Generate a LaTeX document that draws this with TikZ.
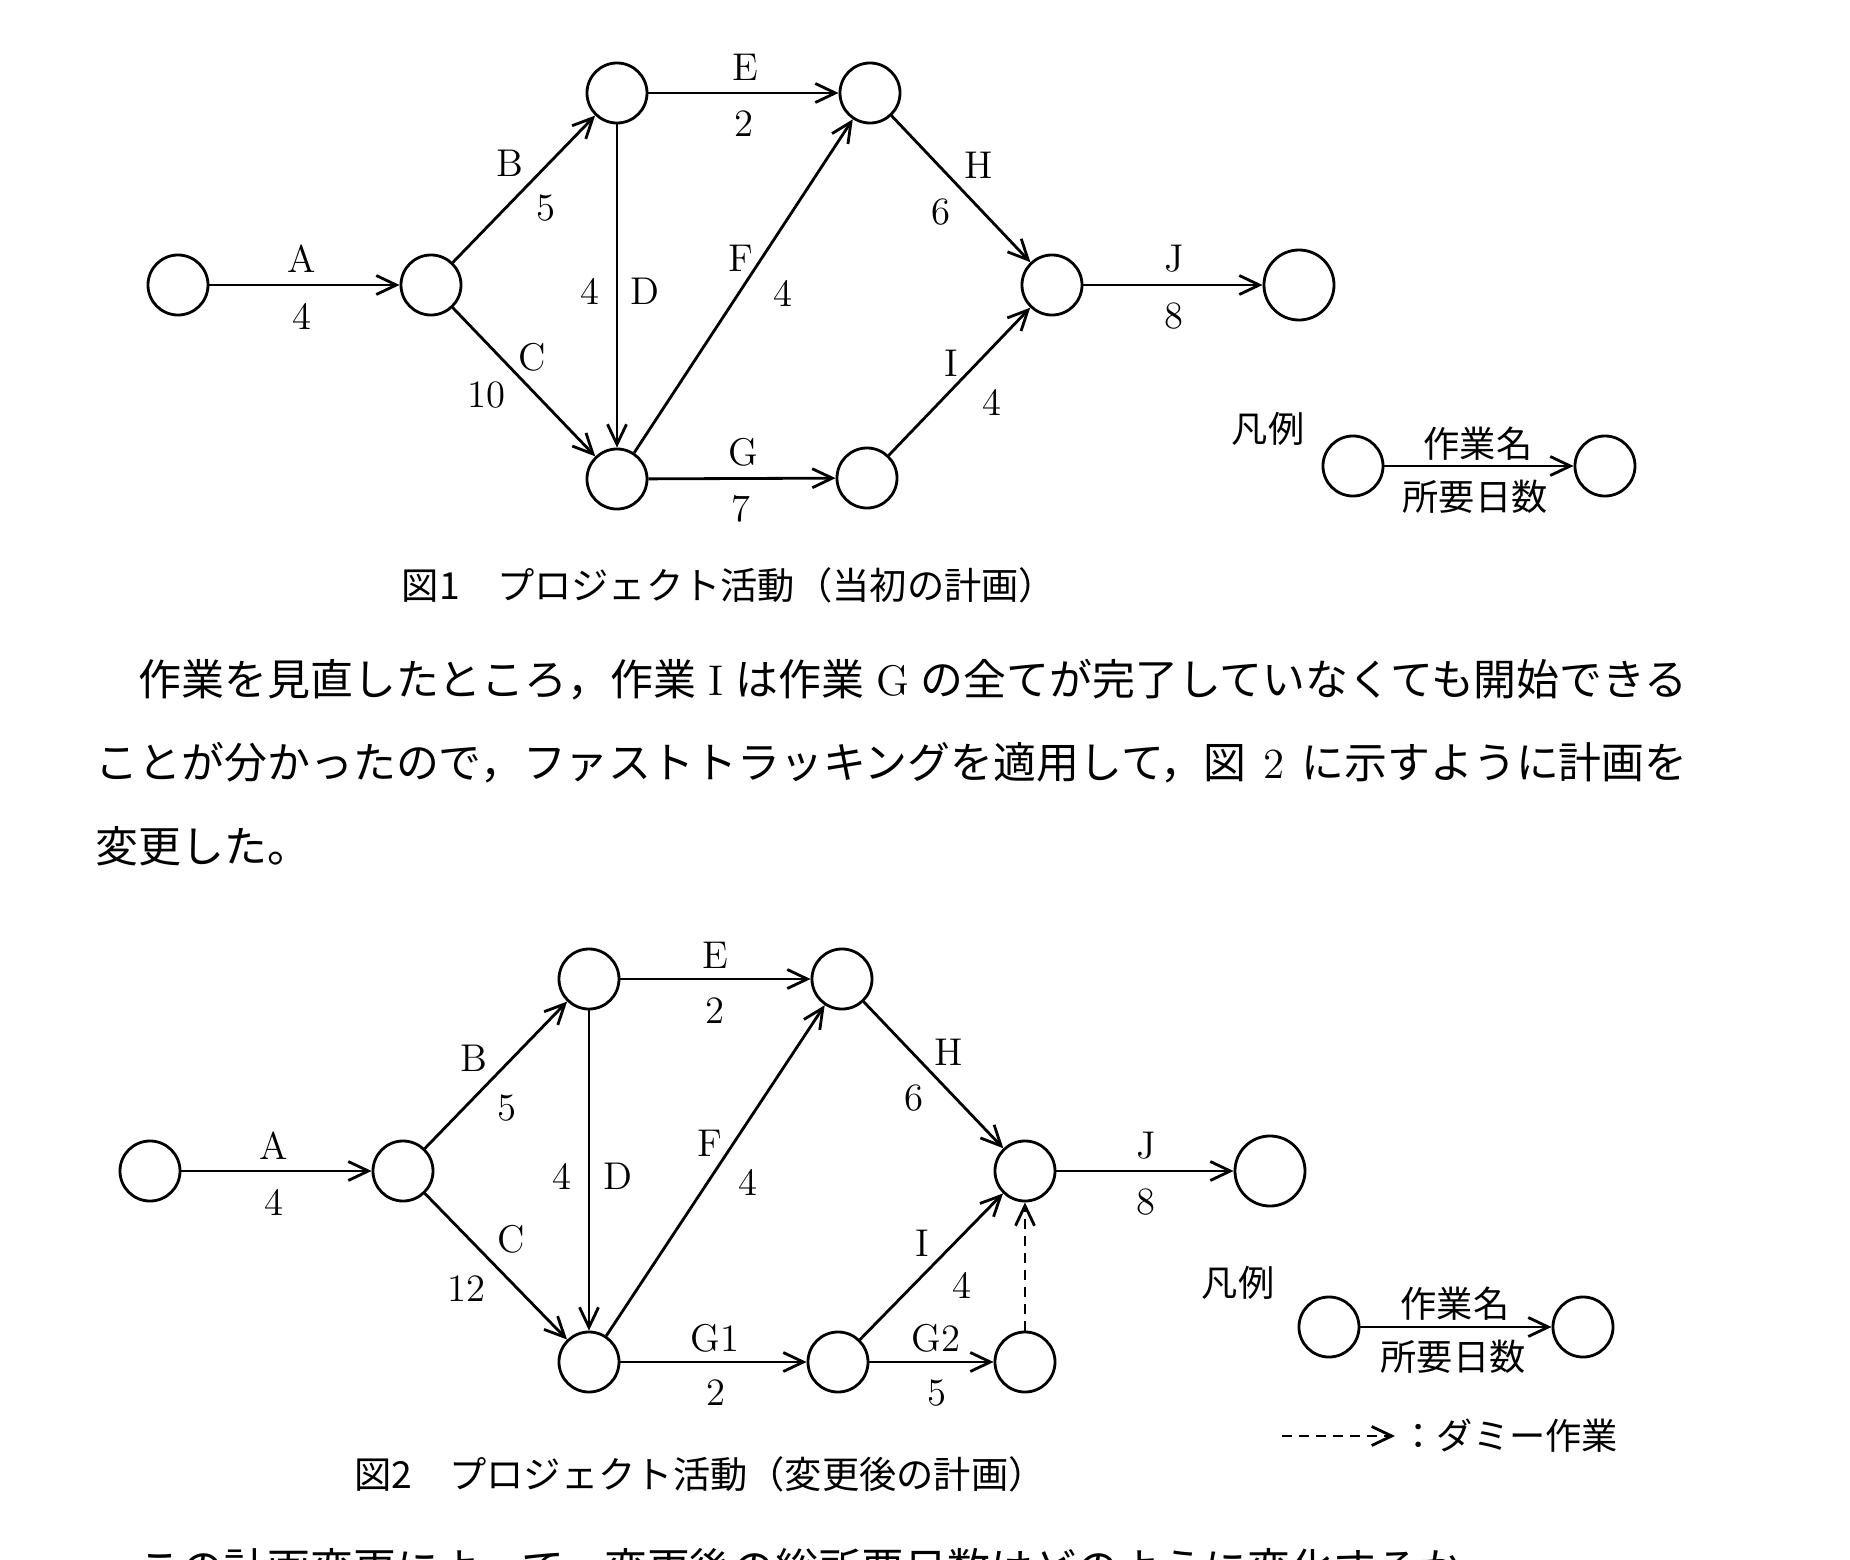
\documentclass[tikz,border=0pt]{standalone}
\usepackage{fontspec}
\usepackage{tikz}
\usetikzlibrary{arrows.meta}
\newfontfamily\jp{Noto Sans CJK JP}
\XeTeXlinebreaklocale "ja"
\XeTeXlinebreakskip=0pt plus 1pt minus 0.3pt

\tikzset{
  ev/.style={circle, draw, line width=0.8pt, minimum size=0.6cm, inner sep=0pt},
  evend/.style={ev, minimum size=0.7cm},
  arr/.style={-{Straight Barb[length=2mm,width=1.9mm]}, line width=0.8pt},
  dummy/.style={arr, dash pattern=on 0.1cm off 0.07cm},
  lab/.style={inner sep=0pt, font=\fontsize{11}{13}\selectfont},
  jlab/.style={inner sep=0pt, font=\jp\fontsize{10.3}{12}\selectfont},
  figcap/.style={inner sep=0pt, font=\jp\fontsize{10.6}{12}\selectfont},
  para/.style={inner sep=0pt, anchor=west, font=\jp\fontsize{12.2}{14}\selectfont}
}

\begin{document}
\begin{tikzpicture}[x=0.01cm, y=-0.01cm]
        \useasboundingbox (0,0) rectangle (1850,1560);
        \clip (0,0) rectangle (1850,1560);

        % Figure 1 (original plan)
        \foreach \n/\x/\y in {0/178/285, 1/431/285, 2/617/93, 3/617/479, 4/870/93, 5/867/478, 6/1052/285} {
          \node[ev] (a\n) at (\x,\y) {};
        }
        \node[evend] (a7) at (1299,285) {};
        \foreach \s/\t in {0/1, 1/2, 1/3, 2/3, 2/4, 3/4, 3/5, 4/6, 5/6, 6/7} {
          \draw[arr] (a\s) -- (a\t);
        }
        \foreach \x/\y/\t [count=\i] in {302/259/A, 302/316/4, 510/163/B, 546/208/5, 532/357/C, 486/395/10, 590/291/4, 645/291/D, 745/67/E, 744/124/2, 741/258/F, 783/293/4, 743/452/G, 741/509/7, 979/165/H, 941/212/6, 951/363/I, 992/402/4, 1174/259/J, 1174/316/8} {
          \node[lab] (la\i) at (\x,\y) {\t};
        }

        % legend 1
        \node[jlab] (lega) at (1268,429) {凡例};
        \node[ev] (lga) at (1353,466) {};
        \node[ev] (lgb) at (1605,466) {};
        \draw[arr] (lga) -- (lgb);
        \node[jlab] (lgname) at (1478,444) {作業名};
        \node[jlab] (lgdays) at (1475,497) {所要日数};

        \node[figcap] (cap1) at (729,585) {図1　プロジェクト活動（当初の計画）};

        % text
        \node[para] (p1) at (95,680) {\makebox[15.91cm][s]{　作業を見直したところ，作業 {\rmfamily I} は作業 {\rmfamily G} の全てが完了していなくても開始できる}};
        \node[para] (p2) at (95,763) {\makebox[15.91cm][s]{ことが分かったので，ファストトラッキングを適用して，図 {\rmfamily 2} に示すように計画を}};
        \node[para] (p3) at (95,846) {変更した。};

        % Figure 2 (changed plan)
        \foreach \n/\x/\y in {0/150/1171, 1/403/1171, 2/589/979, 3/589/1362, 4/842/979, 5/838/1362, 6/1025/1171, 8/1025/1362} {
          \node[ev] (b\n) at (\x,\y) {};
        }
        \node[evend] (b7) at (1270,1171) {};
        \foreach \s/\t in {0/1, 1/2, 1/3, 2/3, 2/4, 3/4, 3/5, 4/6, 5/6, 5/8, 6/7} {
          \draw[arr] (b\s) -- (b\t);
        }
        \draw[dummy] (b8) -- (b6);
        \foreach \x/\y/\t [count=\i] in {274/1146/A, 274/1202/4, 474/1058/B, 507/1108/5, 511/1239/C, 466/1289/12, 562/1176/4, 618/1176/D, 715/955/E, 715/1011/2, 710/1143/F, 748/1182/4, 715/1338/G1, 716/1393/2, 949/1052/H, 914/1098/6, 922/1243/I, 962/1285/4, 936/1338/G2, 937/1393/5, 1146/1146/J, 1146/1202/8} {
          \node[lab] (lb\i) at (\x,\y) {\t};
        }

        % legend 2
        \node[jlab] (legb) at (1238,1283) {凡例};
        \node[ev] (lgc) at (1329,1327) {};
        \node[ev] (lgd) at (1583,1327) {};
        \draw[arr] (lgc) -- (lgd);
        \node[jlab] (lgname2) at (1455,1304) {作業名};
        \node[jlab] (lgdays2) at (1453,1357) {所要日数};
        \coordinate (dma) at (1282,1436);
        \coordinate (dmb) at (1395,1436);
        \draw[dummy] (dma) -- (dmb);
        \node[jlab, anchor=west] (dmtext) at (1400,1436) {：ダミー作業};

        \node[figcap] (cap2) at (700,1474) {図2　プロジェクト活動（変更後の計画）};

        \node[para] (p4) at (95,1569) {　この計画変更によって，変更後の総所要日数はどのように変化するか。};
    \end{tikzpicture}
\end{document}
